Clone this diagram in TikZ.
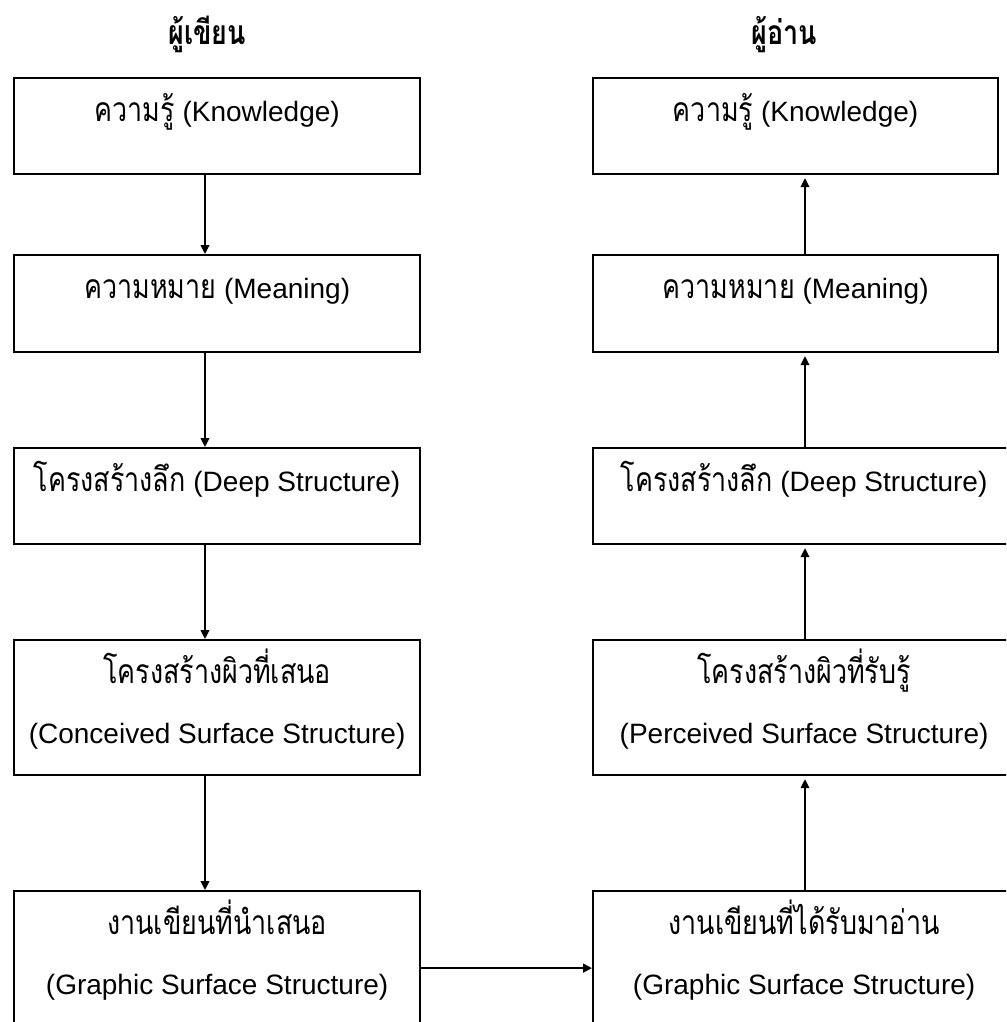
\documentclass[tikz,border=0pt]{standalone}
\usepackage{fontspec}
\setmainfont{Liberation Sans}
\newfontfamily\thaifont[Script=Thai,Scale=1.2,FakeStretch=0.8]{Loma}
\newcommand{\thai}[1]{{\thaifont #1}}
\usetikzlibrary{positioning,arrows.meta}

\begin{document}
\begin{tikzpicture}
		[x=0.5pt, y=-0.5pt,
		 box/.style={draw, line width=1.1pt, inner sep=0pt, anchor=north west, minimum width=203pt},
		 lbl/.style={anchor=base, inner sep=0pt, font=\fontsize{14}{17}\selectfont},
		 title/.style={anchor=base, inner sep=0pt, font=\fontsize{14}{17}\selectfont\bfseries},
		 arr/.style={-{Triangle[length=4.5pt,width=4.4pt]}, line width=0.7pt}]
		\useasboundingbox (0,0) rectangle (1006,1022);
		\clip (0,0) rectangle (1006,1022);

		% headings
		\node[title] (WT) at (207,45) {\thai{ผู้เขียน}};
		\node[title] (RT) at (784,45) {\thai{ผู้อ่าน}};

		% writer column
		\node[box, minimum height=48pt] (W1) at (13,77) {};
		\node[box, minimum height=48.5pt] (W2) at (13,254) {};
		\node[box, minimum height=48pt] (W3) at (13,447) {};
		\node[box, minimum height=67.5pt] (W4) at (13,639) {};
		\node[box, minimum height=77pt] (W5) at (13,890) {};
		\node[lbl] (W1a) at ([yshift=-22pt]W1.north) {\thai{ความรู้} (Knowledge)};
		\node[lbl] (W2a) at ([yshift=-22pt]W2.north) {\thai{ความหมาย} (Meaning)};
		\node[lbl] (W3a) at ([yshift=-22pt]W3.north) {\thai{โครงสร้างลึก} (Deep Structure)};
		\node[lbl] (W4a) at ([yshift=-22pt]W4.north) {\thai{โครงสร้างผิวที่เสนอ}};
		\node[lbl] (W4b) at ([yshift=-52pt]W4.north) {(Conceived Surface Structure)};
		\node[lbl] (W5a) at ([yshift=-22pt]W5.north) {\thai{งานเขียนที่นำเสนอ}};
		\node[lbl] (W5b) at ([yshift=-52pt]W5.north) {(Graphic Surface Structure)};

		% reader column
		\node[box, minimum width=202.5pt, minimum height=48pt] (R1) at (592,77) {};
		\node[box, minimum width=202.5pt, minimum height=48.5pt] (R2) at (592,254) {};
		\node[box, minimum width=211pt, minimum height=48pt] (R3) at (592,447) {};
		\node[box, minimum width=211pt, minimum height=67.5pt] (R4) at (592,639) {};
		\node[box, minimum width=211pt, minimum height=77pt] (R5) at (592,890) {};
		\node[lbl] (R1a) at ([yshift=-22pt]R1.north) {\thai{ความรู้} (Knowledge)};
		\node[lbl] (R2a) at ([yshift=-22pt]R2.north) {\thai{ความหมาย} (Meaning)};
		\node[lbl] (R3a) at ([yshift=-22pt]R3.north) {\thai{โครงสร้างลึก} (Deep Structure)};
		\node[lbl] (R4a) at ([yshift=-22pt]R4.north) {\thai{โครงสร้างผิวที่รับรู้}};
		\node[lbl] (R4b) at ([yshift=-52pt]R4.north) {(Perceived Surface Structure)};
		\node[lbl] (R5a) at ([yshift=-22pt]R5.north) {\thai{งานเขียนที่ได้รับมาอ่าน}};
		\node[lbl] (R5b) at ([yshift=-52pt]R5.north) {(Graphic Surface Structure)};

		% arrows
		\coordinate (LA) at (205,0);
		\coordinate (RA) at (805,0);
		\draw[arr] (W1.south -| LA) -- (W2.north -| LA);
		\draw[arr] (W2.south -| LA) -- (W3.north -| LA);
		\draw[arr] (W3.south -| LA) -- (W4.north -| LA);
		\draw[arr] (W4.south -| LA) -- (W5.north -| LA);
		\draw[arr, line width=1pt] (W5.east) -- (R5.west);
		\draw[arr, shorten >=1.5pt] (R5.north -| RA) -- (R4.south -| RA);
		\draw[arr, shorten >=1.5pt] (R4.north -| RA) -- (R3.south -| RA);
		\draw[arr, shorten >=1.5pt] (R3.north -| RA) -- (R2.south -| RA);
		\draw[arr, shorten >=1.5pt] (R2.north -| RA) -- (R1.south -| RA);
	\end{tikzpicture}
\end{document}
